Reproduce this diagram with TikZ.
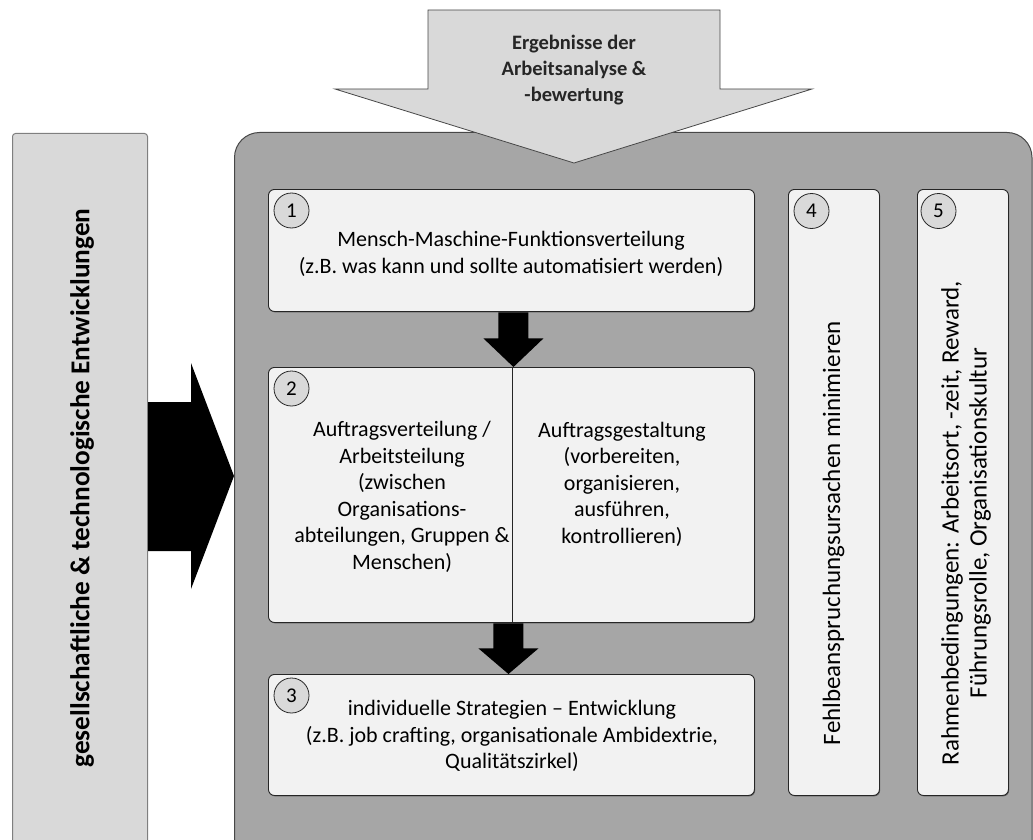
\documentclass[tikz,border=0pt]{standalone}
\usepackage{fontspec}
\setmainfont{Carlito}
\usetikzlibrary{calc,shadows}
\definecolor{panelgrey}{HTML}{A6A6A6}
\definecolor{cardfill}{HTML}{F2F2F2}
\definecolor{lightgrey}{HTML}{D9D9D9}
\definecolor{edge}{HTML}{262626}
\definecolor{softedge}{HTML}{7F7F7F}

\begin{document}
\begin{tikzpicture}[x=1pt,y=-1pt,
  card/.style={draw=edge, line width=0.9pt, fill=cardfill, rounded corners=6pt,
    inner sep=0pt, anchor=north west,
    drop shadow={shadow xshift=0.7pt, shadow yshift=-0.9pt, opacity=0.45, fill=black}},
  num/.style={circle, draw=edge, line width=0.8pt, fill=lightgrey, minimum size=35pt,
    inner sep=0pt, font=\fontsize{21}{21}\selectfont},
  body/.style={align=center, inner sep=0pt, font=\fontsize{22}{26.5}\selectfont, text=black},
  blockarrow/.style={fill=black},
]
\useasboundingbox (0,0) rectangle (1033,840);
\clip (0,0) rectangle (1033,840);

% societal and technological developments (left bar)
\node[draw=softedge, fill=lightgrey, line width=1pt, rounded corners=3pt, anchor=north west,
  minimum width=135pt, minimum height=760pt, inner sep=0pt] (trend) at (12,133) {};
\node[rotate=90, inner sep=0pt, font=\fontsize{27.3}{27.3}\selectfont\bfseries] (trendtext) at (82,488)
  {gesellschaftliche \& technologische Entwicklungen};

% main panel
\node[draw=edge!85, fill=panelgrey, line width=1pt, rounded corners=25pt, anchor=north west,
  minimum width=797.5pt, minimum height=760pt, inner sep=0pt] (panel) at (234,132) {};

% black arrow from the bar into the panel
\coordinate (inbase) at (trend.east |- 0,476);
\coordinate (intip) at (panel.west |- 0,476);
\fill[blockarrow] (inbase) ++(0,-74) -- ++(43,0) -- ++(0,-39) -- (intip)
  -- ($(inbase)+(43,113)$) -- ++(0,-38) -- ++(-43,0) -- cycle;

% input arrow at the top
\draw[draw=edge!85, fill=lightgrey, line width=0.8pt]
  (428,10) -- (720,10) -- (720,89) -- (812,89) -- (574,163) -- (335,89) -- (428,89) -- cycle;
\node[align=center, inner sep=0pt, text=edge, font=\fontsize{20.5}{26}\selectfont\bfseries]
  (resultstext) at (574,70) {Ergebnisse der\\Arbeitsanalyse \&\\-bewertung};

% cards
\node[card, minimum width=486pt, minimum height=122pt] (b1) at (268,189) {};
\node[card, minimum width=486pt, minimum height=255pt] (b2) at (268,367) {};
\node[card, minimum width=486pt, minimum height=121pt] (b3) at (268,674) {};
\node[card, minimum width=91pt, minimum height=606pt] (b4) at (788,189) {};
\node[card, minimum width=91pt, minimum height=606pt] (b5) at (917,189) {};

% divider inside card 2
\draw[edge, line width=0.9pt] (b2.north -| 512,0) -- (b2.south -| 512,0);

% numbers
\node[num] (n1) at ($(b1.north west)+(23.5,21.5)$) {1};
\node[num] (n2) at ($(b2.north west)+(23.5,21.5)$) {2};
\node[num] (n3) at ($(b3.north west)+(23.5,21.5)$) {3};
\node[num] (n4) at ($(b4.north west)+(23.5,22)$) {4};
\node[num] (n5) at ($(b5.north west)+(21.5,22)$) {5};

% arrows between the cards
\coordinate (a1s) at ($(b1.south)+(2,0.5)$);
\fill[blockarrow] (a1s) ++(-15,0) -- ++(30,0) -- ++(0,26) -- ++(15,0) -- ($(b2.north)+(2,0)$)
  -- ($(a1s)+(-30,26)$) -- ++(15,0) -- cycle;
\coordinate (a2s) at ($(b2.south)+(-3,0.5)$);
\fill[blockarrow] (a2s) ++(-15,0) -- ++(30,0) -- ++(0,25) -- ++(15,0) -- ($(b3.north)+(-3,0)$)
  -- ($(a2s)+(-30,25)$) -- ++(15,0) -- cycle;

% card texts
\node[body] (t1) at (511,254) {Mensch-Maschine-Funktionsverteilung\\(z.B. was kann und sollte automatisiert werden)};
\node[body] (t2a) at (402,497) {Auftragsverteilung /\\Arbeitsteilung\\(zwischen\\Organisations-\\abteilungen, Gruppen \&\\Menschen)};
\node[body] (t2b) at (622,484) {Auftragsgestaltung\\(vorbereiten,\\organisieren,\\ausführen,\\kontrollieren)};
\node[body] (t3) at (512,736) {individuelle Strategien – Entwicklung\\(z.B. job crafting, organisationale Ambidextrie,\\Qualitätszirkel)};
\node[body, rotate=90, font=\fontsize{25}{28}\selectfont] (t4) at (833.5,533) {Fehlbeanspruchungsursachen minimieren};
\node[body, rotate=90, font=\fontsize{25}{28}\selectfont] (t5) at (966,523) {Rahmenbedingungen: Arbeitsort, -zeit, Reward,\\Führungsrolle, Organisationskultur};
\end{tikzpicture}
\end{document}
